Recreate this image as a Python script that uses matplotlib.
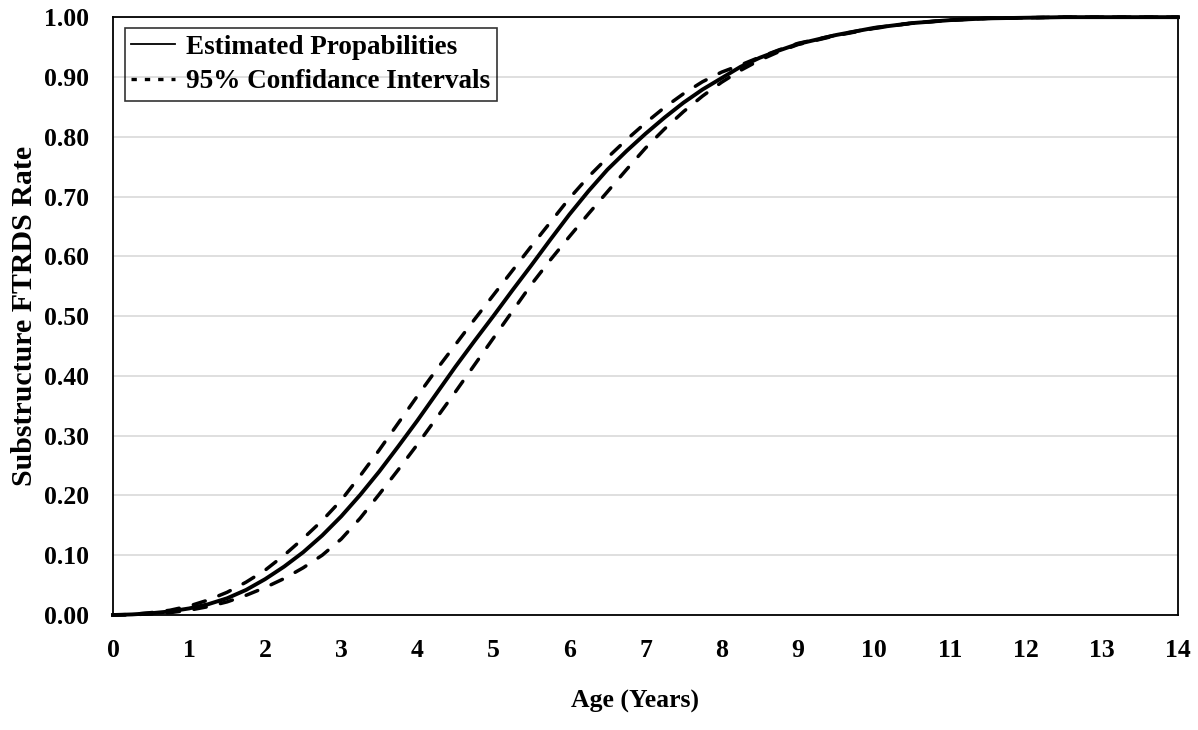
import numpy as np
import matplotlib.pyplot as plt
from matplotlib.lines import Line2D

plt.rcParams.update({
    "font.family": "serif",
    "font.serif": ["Liberation Serif", "DejaVu Serif"],
    "font.weight": "bold",
})

# Values
age = [0, 0.25, 0.5, 0.75, 1, 1.25, 1.5, 1.75, 2, 2.25, 2.5, 2.75, 3, 3.25,
       3.5, 3.75, 4, 4.25, 4.5, 4.75, 5, 5.25, 5.5, 5.75, 6, 6.25, 6.5, 6.75,
       7, 7.25, 7.5, 7.75, 8, 8.25, 8.5, 8.75, 9,
       9.5, 10, 10.5, 11, 11.5, 12, 12.5, 13, 13.5, 14]
estimated = [0.000, 0.001, 0.003, 0.006, 0.011, 0.018, 0.028, 0.042, 0.060,
             0.081, 0.105, 0.133, 0.165, 0.201, 0.240, 0.282, 0.325, 0.370,
             0.415, 0.458, 0.500, 0.543, 0.585, 0.628, 0.670, 0.709, 0.745,
             0.776, 0.805, 0.832, 0.857, 0.879, 0.898, 0.917, 0.932, 0.944,
             0.955, 0.970, 0.982, 0.990, 0.995, 0.998, 0.999, 1.0, 1.0, 1.0, 1.0]
upper = [0.000, 0.001, 0.004, 0.008, 0.015, 0.025, 0.038, 0.055, 0.075,
         0.100, 0.128, 0.158, 0.192, 0.233, 0.276, 0.321, 0.366, 0.410,
         0.452, 0.494, 0.535, 0.576, 0.617, 0.657, 0.697, 0.733, 0.765,
         0.795, 0.823, 0.849, 0.872, 0.892, 0.908, 0.920, 0.933, 0.945,
         0.956, 0.970, 0.982, 0.990, 0.995, 0.998, 0.999, 1.0, 1.0, 1.0, 1.0]
lower = [0.000, 0.0005, 0.002, 0.004, 0.008, 0.014, 0.022, 0.033, 0.046,
         0.061, 0.079, 0.100, 0.127, 0.162, 0.202, 0.243, 0.285, 0.329,
         0.373, 0.418, 0.463, 0.508, 0.553, 0.594, 0.633, 0.671, 0.708,
         0.745, 0.781, 0.813, 0.842, 0.868, 0.891, 0.911, 0.928, 0.942,
         0.954, 0.969, 0.981, 0.990, 0.995, 0.998, 0.999, 1.0, 1.0, 1.0, 1.0]

x_ticks = np.arange(0, 15, 1)
y_ticks = np.arange(0, 1.01, 0.1)

fig = plt.figure(figsize=(11.98, 7.30), dpi=100)
ax = fig.add_axes([0.0943, 0.1575, 0.889, 0.819])

ax.plot(age, estimated, color='black', lw=2.8, clip_on=False, zorder=3,
        solid_joinstyle='round')
for band in (upper, lower):
    ax.plot(age, band, color='black', lw=2.5, dashes=[3.6, 4.2],
            dash_capstyle='round', clip_on=False, zorder=3)

ax.set_xlim(0, 14)
ax.set_ylim(0, 1)
ax.set_xticks(x_ticks)
ax.set_yticks(y_ticks)
ax.set_yticklabels([f"{v:.2f}" for v in y_ticks])
ax.tick_params(axis='both', length=0, pad=17, labelsize=18.5)

ax.grid(True, axis='y', color='#d9d9d9', lw=1.2)
ax.set_axisbelow(True)
for spine in ax.spines.values():
    spine.set_color('black')
    spine.set_linewidth(1.3)

ax.set_xlabel("Age (Years)", fontsize=18.5, fontweight='bold')
ax.set_ylabel("Substructure FTRDS Rate", fontsize=21.5, fontweight='bold')
ax.xaxis.set_label_coords(0.49, -0.125)
ax.yaxis.set_label_coords(-0.07, 0.5)

# Legend (transparent box, grid shows through)
handles = [Line2D([], [], color='black', lw=1.3),
           Line2D([], [], color='black', lw=2.4, dashes=[1.6, 2.4])]
leg = ax.legend(handles, ["Estimated Propabilities", "95% Confidance Intervals"],
                loc='upper left', bbox_to_anchor=(0.011, 0.982), borderaxespad=0,
                fancybox=False, edgecolor='black', facecolor='none',
                handlelength=1.6, handletextpad=0.4, borderpad=0.25,
                labelspacing=0.35, prop={'weight': 'bold', 'size': 19.5})
leg.get_frame().set_linewidth(1.2)

fig.savefig("out.png", dpi=100)
